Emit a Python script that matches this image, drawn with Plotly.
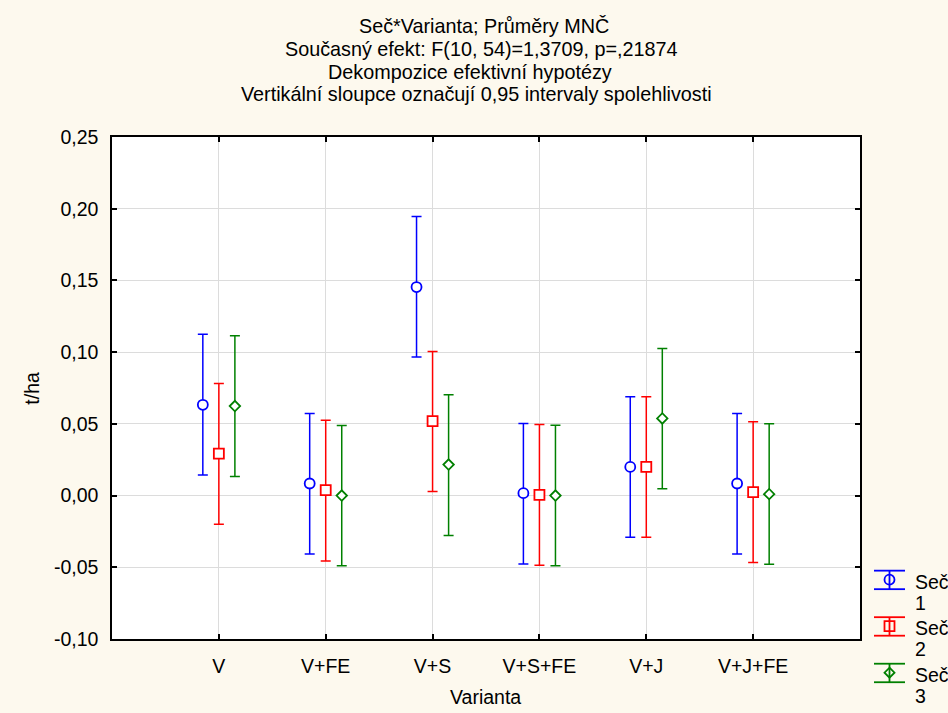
import plotly.graph_objects as go

# ---------------- data ----------------
categories = ["V", "V+FE", "V+S", "V+S+FE", "V+J", "V+J+FE"]
series_names = ["Seč 1", "Seč 2", "Seč 3"]

sec1_mean = [0.0633, 0.0084, 0.1454, 0.0017, 0.0200, 0.0084]
sec1_upper = [0.1124, 0.0572, 0.1945, 0.0502, 0.0689, 0.0572]
sec1_lower = [0.0144, -0.0407, 0.0966, -0.0477, -0.0290, -0.0407]

sec2_mean = [0.0293, 0.0038, 0.0519, 0.0005, 0.0200, 0.0024]
sec2_upper = [0.0782, 0.0526, 0.1005, 0.0496, 0.0689, 0.0514]
sec2_lower = [-0.0200, -0.0456, 0.0028, -0.0486, -0.0290, -0.0467]

sec3_mean = [0.0624, 0.0000, 0.0216, 0.0000, 0.0538, 0.0010]
sec3_upper = [0.1114, 0.0489, 0.0703, 0.0491, 0.1026, 0.0500]
sec3_lower = [0.0133, -0.0490, -0.0279, -0.0490, 0.0047, -0.0479]

y_ticks = [-0.10, -0.05, 0.00, 0.05, 0.10, 0.15, 0.20, 0.25]
y_tick_labels = ["-0,10", "-0,05", "0,00", "0,05", "0,10", "0,15", "0,20", "0,25"]

title_lines = [
    "Seč*Varianta; Průměry MNČ",
    "Současný efekt: F(10, 54)=1,3709, p=,21874",
    "Dekompozice efektivní hypotézy",
    "Vertikální sloupce označují 0,95 intervaly spolehlivosti",
]

# ---------------- styling ----------------
W, H = 948, 713
L, R, T, B = 112, 860, 137.3, 639
FONT = "Liberation Sans, Arial, sans-serif"
BG = "#FDF9EE"
colors = ["#0000FF", "#FF0000", "#008000"]
symbols = ["circle", "square", "diamond"]
sizes = [10, 10, 8]
offsets = [-0.15, 0.0, 0.15]
means = [sec1_mean, sec2_mean, sec3_mean]
uppers = [sec1_upper, sec2_upper, sec3_upper]
lowers = [sec1_lower, sec2_lower, sec3_lower]


def px_x(px):
    return (px - L) / (R - L)


def px_y(py):
    return (B - py) / (B - T)


fig = go.Figure()
for k in range(3):
    xs = [i + offsets[k] for i in range(len(categories))]
    up = [u - m for u, m in zip(uppers[k], means[k])]
    dn = [m - lo for m, lo in zip(means[k], lowers[k])]
    fig.add_trace(go.Scatter(
        x=xs, y=means[k], mode="markers", name=series_names[k],
        marker=dict(symbol=symbols[k], size=sizes[k], color="white",
                    line=dict(color=colors[k], width=1.8)),
        error_y=dict(type="data", symmetric=False, array=up, arrayminus=dn,
                     color=colors[k], thickness=1.5, width=5),
        showlegend=False,
    ))

axis_common = dict(
    showline=True, linecolor="black", linewidth=1.5, mirror="ticks",
    ticks="inside", ticklen=5, tickcolor="black", tickwidth=1.5,
    showgrid=True, gridcolor="#DCDCDC", gridwidth=1, zeroline=False,
    tickfont=dict(family=FONT, size=19.5, color="black"),
)

fig.update_xaxes(range=[-1, len(categories)], tickmode="array",
                 tickvals=list(range(len(categories))), ticktext=categories,
                 ticklabelstandoff=9, **axis_common)
fig.update_yaxes(range=[y_ticks[0], y_ticks[-1]], tickmode="array",
                 tickvals=y_ticks, ticktext=y_tick_labels, ticklabelstandoff=8,
                 **axis_common)

annotations = []
title_y = [26.3, 49.5, 72, 94.3]
title_x = [483.5, 481.5, 470.0, 476.7]
for line, px, py in zip(title_lines, title_x, title_y):
    annotations.append(dict(text=line, xref="paper", yref="paper",
                            x=px_x(px), y=px_y(py), xanchor="center",
                            yanchor="middle", showarrow=False,
                            font=dict(family=FONT, size=19.8, color="black")))
annotations.append(dict(text="t/ha", xref="paper", yref="paper",
                        x=px_x(31.7), y=0.5, textangle=-90, xanchor="center",
                        yanchor="middle", showarrow=False,
                        font=dict(family=FONT, size=19.5, color="black")))
annotations.append(dict(text="Varianta", xref="paper", yref="paper",
                        x=px_x(485.5), y=px_y(696.7), xanchor="center",
                        yanchor="middle", showarrow=False,
                        font=dict(family=FONT, size=19.5, color="black")))

# ---------------- manual legend ----------------
shapes = []
for k in range(3):
    top = 570.7 + 46.5 * k
    bot = top + 18.5
    cx, cy = 889.5, top + 9
    c = colors[k]
    ln = dict(color=c, width=1.8)
    shapes.append(dict(type="line", xref="paper", yref="paper",
                       x0=px_x(874), x1=px_x(905), y0=px_y(top), y1=px_y(top), line=ln))
    shapes.append(dict(type="line", xref="paper", yref="paper",
                       x0=px_x(874), x1=px_x(905), y0=px_y(bot), y1=px_y(bot), line=ln))
    shapes.append(dict(type="line", xref="paper", yref="paper",
                       x0=px_x(cx), x1=px_x(cx), y0=px_y(top), y1=px_y(bot), line=ln))
    r = 5
    if symbols[k] == "circle":
        shapes.append(dict(type="circle", xref="paper", yref="paper",
                           x0=px_x(cx - r), x1=px_x(cx + r), y0=px_y(cy - r), y1=px_y(cy + r),
                           line=ln))
    elif symbols[k] == "square":
        shapes.append(dict(type="rect", xref="paper", yref="paper",
                           x0=px_x(cx - r), x1=px_x(cx + r), y0=px_y(cy - r), y1=px_y(cy + r),
                           line=ln))
    else:
        path = "M {} {} L {} {} L {} {} L {} {} Z".format(
            px_x(cx), px_y(cy - r), px_x(cx + r), px_y(cy),
            px_x(cx), px_y(cy + r), px_x(cx - r), px_y(cy))
        shapes.append(dict(type="path", xref="paper", yref="paper", path=path, line=ln))
    name, num = series_names[k].split(" ")
    annotations.append(dict(text=name, xref="paper", yref="paper",
                            x=px_x(913), y=px_y(top + 11), xanchor="left",
                            yanchor="middle", showarrow=False,
                            font=dict(family=FONT, size=19.5, color="black")))
    annotations.append(dict(text=num, xref="paper", yref="paper",
                            x=px_x(913), y=px_y(top + 32), xanchor="left",
                            yanchor="middle", showarrow=False,
                            font=dict(family=FONT, size=19.5, color="black")))

fig.update_layout(
    width=W, height=H, autosize=False,
    margin=dict(l=L, r=W - R, t=T, b=H - B, pad=0),
    paper_bgcolor=BG, plot_bgcolor="white",
    separators=", ",
    font=dict(family=FONT, size=19.5, color="black"),
    annotations=annotations, shapes=shapes, showlegend=False,
)

fig.write_html("out.html", config={"displayModeBar": False},
               post_script="document.body.style.margin='0';document.body.style.overflow='hidden';")
